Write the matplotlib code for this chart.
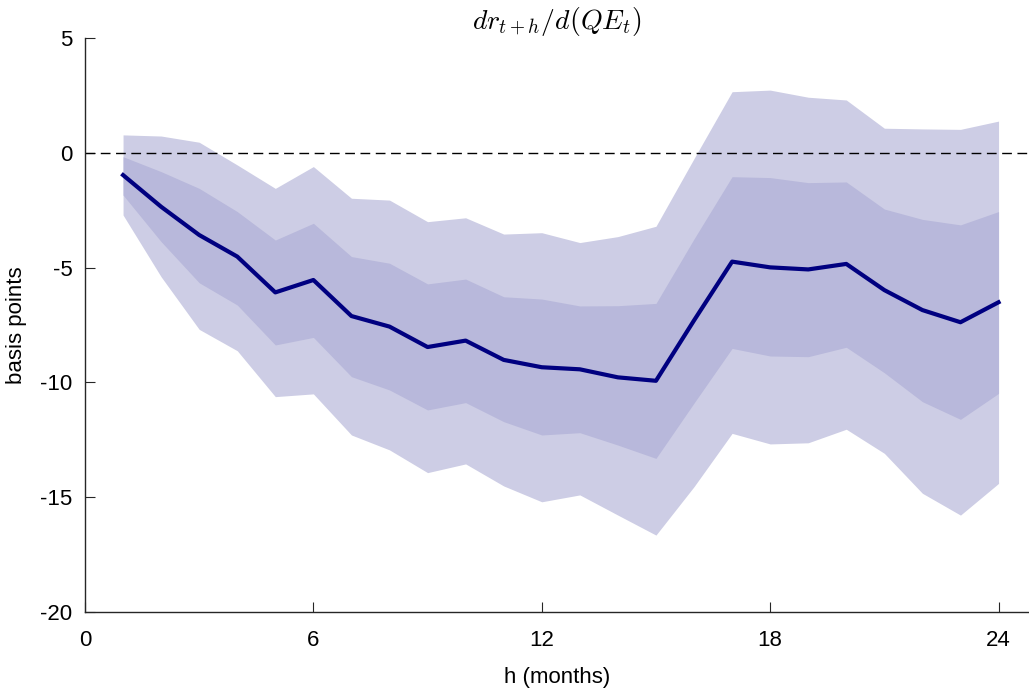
import matplotlib
matplotlib.use("Agg")
import matplotlib.pyplot as plt

# horizon (months)
h = list(range(1, 25))

# point estimate
irf = [-0.97, -2.35, -3.58, -4.52, -6.08, -5.54, -7.11, -7.57, -8.46, -8.18,
       -9.02, -9.34, -9.43, -9.78, -9.93, -7.3, -4.74, -4.99, -5.08, -4.84,
       -5.98, -6.85, -7.38, -6.51]

# inner band
inner_hi = [-0.17, -0.82, -1.55, -2.56, -3.8, -3.07, -4.52, -4.81, -5.71, -5.5,
            -6.27, -6.37, -6.67, -6.66, -6.56, -3.75, -1.04, -1.08, -1.3, -1.27,
            -2.45, -2.9, -3.14, -2.56]
inner_lo = [-1.84, -3.87, -5.66, -6.63, -8.37, -8.04, -9.75, -10.33, -11.2, -10.88,
            -11.71, -12.29, -12.19, -12.73, -13.31, -10.9, -8.52, -8.85, -8.88, -8.47,
            -9.58, -10.84, -11.61, -10.48]

# outer band
outer_hi = [0.78, 0.73, 0.46, -0.53, -1.55, -0.6, -1.98, -2.06, -3.0, -2.83,
            -3.54, -3.48, -3.91, -3.65, -3.2, -0.25, 2.66, 2.73, 2.42, 2.3,
            1.07, 1.04, 1.02, 1.38]
outer_lo = [-2.71, -5.4, -7.69, -8.62, -10.62, -10.5, -12.29, -12.94, -13.93, -13.55,
            -14.51, -15.2, -14.9, -15.78, -16.65, -14.54, -12.22, -12.68, -12.63, -12.04,
            -13.09, -14.83, -15.78, -14.4]

plt.rcParams['font.family'] = ['Liberation Sans', 'DejaVu Sans']
plt.rcParams['mathtext.fontset'] = 'cm'

fig = plt.figure(figsize=(10.29, 6.92), dpi=100)
ax = fig.add_axes([0.0826, 0.1156, 0.9174, 0.8295])

ax.fill_between(h, outer_lo, outer_hi, color='#cdcde5', linewidth=0)
ax.fill_between(h, inner_lo, inner_hi, color='#b8b8db', linewidth=0)
ax.axhline(0, color='black', linestyle=(0, (7, 4)), linewidth=1)
ax.plot(h, irf, color='#000080', linewidth=3)

ax.set_xlim(0, 24.8)
ax.set_ylim(-20, 5)
ax.set_xticks([0, 6, 12, 18, 24])
ax.set_yticks([-20, -15, -10, -5, 0, 5])
ax.set_yticklabels(['-20', '-15', '-10', '-5', '0', '5'])

for s in ['top', 'right']:
    ax.spines[s].set_visible(False)
for s in ['left', 'bottom']:
    ax.spines[s].set_color('#262626')
    ax.spines[s].set_linewidth(1)
ax.tick_params(direction='in', length=7, width=0.8, color='#262626', labelsize=16)
ax.tick_params(axis='x', pad=13)
ax.tick_params(axis='y', pad=9)

ax.set_xlabel('h (months)', fontsize=16)
ax.set_ylabel('basis points', fontsize=16)
ax.xaxis.set_label_coords(0.5, -0.095)
ax.yaxis.set_label_coords(-0.0614, 0.5)
ax.set_title(r'$dr_{t+h}/d(QE_t)$', fontsize=20, pad=3)

fig.savefig('out.png', dpi=100)
